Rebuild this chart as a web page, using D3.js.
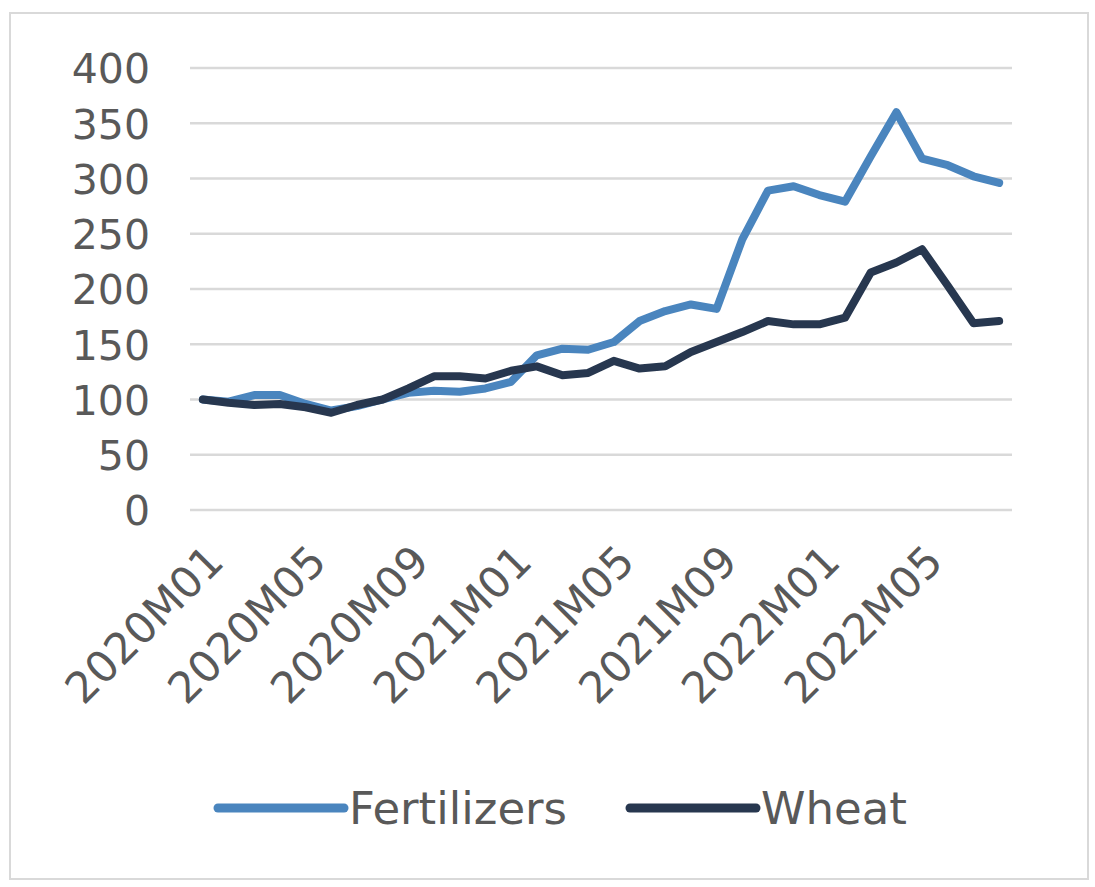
<!DOCTYPE html>
<html>
<head>
<meta charset="utf-8">
<script src="https://cdn.jsdelivr.net/npm/d3@7"></script>
<style>
  html, body { margin: 0; padding: 0; background: #fff; }
  svg { display: block; }
</style>
</head>
<body>
<svg id="chart" width="1095" height="887"></svg>
<script>
// Monthly index, 2020M01 = 100
const months = [
  "2020M01","2020M02","2020M03","2020M04","2020M05","2020M06","2020M07","2020M08",
  "2020M09","2020M10","2020M11","2020M12","2021M01","2021M02","2021M03","2021M04",
  "2021M05","2021M06","2021M07","2021M08","2021M09","2021M10","2021M11","2021M12",
  "2022M01","2022M02","2022M03","2022M04","2022M05","2022M06","2022M07","2022M08"
];
const fertilizers = [100, 98, 104, 104, 96, 90, 94, 100, 106, 108, 107, 110, 116, 140, 146, 145,
                     152, 171, 180, 186, 182, 245, 289, 293, 285, 279, 320, 360, 318, 312, 302, 296];
const wheat = [100, 97, 95, 96, 93, 88, 95, 100, 110, 121, 121, 119, 126, 130, 122, 124,
               135, 128, 130, 143, 152, 161, 171, 168, 168, 174, 215, 224, 236, 203, 169, 171];
const yTicks = [0, 50, 100, 150, 200, 250, 300, 350, 400];
const shownLabels = ["2020M01","2020M05","2020M09","2021M01","2021M05","2021M09","2022M01","2022M05"];

const seriesList = [
  { name: "Fertilizers", values: fertilizers, color: "#4a85be" },
  { name: "Wheat", values: wheat, color: "#27374f" }
];

const svg = d3.select("#chart");
const font = "'DejaVu Sans', sans-serif";
const textColor = "#595959";

// outer frame
svg.append("rect")
  .attr("x", 10).attr("y", 13).attr("width", 1078).attr("height", 866)
  .attr("fill", "#fff").attr("stroke", "#d9d9d9").attr("stroke-width", 2);

const plotLeft = 190, plotRight = 1012, plotTop = 68, plotBottom = 510;

const x = d3.scalePoint().domain(months).range([plotLeft, plotRight]).padding(0.5);
const y = d3.scaleLinear().domain([0, 400]).range([plotBottom, plotTop]);

// horizontal gridlines
svg.append("g")
  .selectAll("line")
  .data(yTicks)
  .join("line")
  .attr("x1", plotLeft).attr("x2", plotRight)
  .attr("y1", d => y(d)).attr("y2", d => y(d))
  .attr("stroke", "#d9d9d9").attr("stroke-width", 2.5);

// y axis labels
const yAxis = svg.append("g")
  .attr("transform", `translate(150,0)`)
  .call(d3.axisLeft(y).tickValues(yTicks).tickSize(0).tickPadding(0));
yAxis.select(".domain").remove();
yAxis.selectAll("text")
  .attr("font-family", font).attr("font-size", 41)
  .attr("fill", textColor)
  .attr("dy", "0.36em");

// x axis labels, rotated
const xAxis = svg.append("g")
  .attr("transform", `translate(0,${plotBottom})`)
  .call(d3.axisBottom(x).tickValues(shownLabels).tickSize(0).tickPadding(0));
xAxis.select(".domain").remove();
xAxis.selectAll(".tick").attr("transform", d => `translate(${x(d) + 23},54)`);
xAxis.selectAll("text")
  .attr("font-family", font).attr("font-size", 43)
  .attr("fill", textColor)
  .attr("text-anchor", "end")
  .attr("x", 0).attr("y", 0).attr("dy", 0)
  .attr("transform", "rotate(-45)");

// series lines
const line = d3.line()
  .x((d, i) => x(months[i]))
  .y(d => y(d));

svg.append("g")
  .selectAll("path")
  .data(seriesList)
  .join("path")
  .attr("d", s => line(s.values))
  .attr("fill", "none")
  .attr("stroke", s => s.color)
  .attr("stroke-width", 8)
  .attr("stroke-linejoin", "round")
  .attr("stroke-linecap", "round");

// legend
const legendItems = [
  { s: seriesList[0], x0: 218 },
  { s: seriesList[1], x0: 630 }
];
const legend = svg.append("g");
legendItems.forEach(item => {
  const g = legend.append("g").attr("transform", `translate(${item.x0},808)`);
  g.append("line")
    .attr("x1", 0).attr("x2", 126).attr("y1", 0).attr("y2", 0)
    .attr("stroke", item.s.color).attr("stroke-width", 9)
    .attr("stroke-linecap", "round");
  g.append("text")
    .attr("x", 131).attr("y", 0).attr("dy", "0.36em")
    .attr("font-family", font).attr("font-size", 45)
    .attr("fill", textColor)
    .text(item.s.name);
});
</script>
</body>
</html>
